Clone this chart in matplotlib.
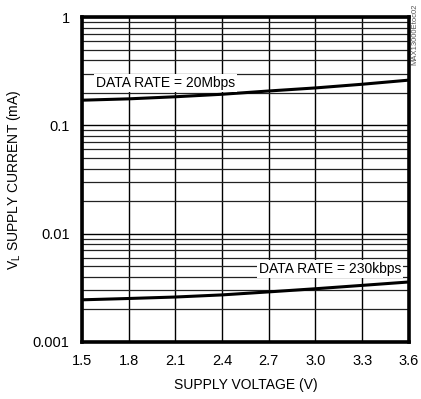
import numpy as np
import matplotlib.pyplot as plt
from matplotlib.ticker import FixedLocator, NullFormatter

plt.rcParams['font.family'] = ['Liberation Sans Narrow', 'Liberation Sans', 'DejaVu Sans']

volts = [1.5, 1.8, 2.1, 2.4, 2.7, 3.0, 3.3, 3.6]
i_20mbps = [0.171, 0.176, 0.184, 0.194, 0.208, 0.222, 0.240, 0.262]
i_230kbps = [0.00245, 0.00252, 0.00260, 0.00272, 0.00290, 0.00310, 0.00333, 0.00358]

xticks = [1.5, 1.8, 2.1, 2.4, 2.7, 3.0, 3.3, 3.6]
xticklabels = ['1.5', '1.8', '2.1', '2.4', '2.7', '3.0', '3.3', '3.6']
yticks = [0.001, 0.01, 0.1, 1]
yticklabels = ['0.001', '0.01', '0.1', '1']

fig = plt.figure(figsize=(4.21, 3.99), dpi=100)
ax = fig.add_axes([0.195, 0.143, 0.776, 0.814])

ax.plot(volts, i_20mbps, color='black', lw=2.2, zorder=3)
ax.plot(volts, i_230kbps, color='black', lw=2.2, zorder=3)

ax.set_yscale('log')
ax.set_xlim(1.5, 3.6)
ax.set_ylim(0.001, 1)
ax.set_xticks(xticks)
ax.set_xticklabels(xticklabels)
ax.set_yticks(yticks)
ax.set_yticklabels(yticklabels)
minors = [m * d for d in (0.001, 0.01, 0.1) for m in range(2, 10)]
ax.yaxis.set_minor_locator(FixedLocator(minors))
ax.yaxis.set_minor_formatter(NullFormatter())
ax.tick_params(which='both', length=0, labelsize=10.5, pad=9)
ax.grid(True, which='major', color='black', lw=1.0)
ax.grid(True, which='minor', axis='y', color='#222222', lw=0.9)
for s in ax.spines.values():
    s.set_linewidth(2.6)

ax.set_xlabel('SUPPLY VOLTAGE (V)', fontsize=10, labelpad=7)
ax.set_ylabel('V$_\\mathregular{L}$ SUPPLY CURRENT (mA)', fontsize=10)
ax.yaxis.set_label_coords(-0.18, 0.5)

box = dict(facecolor='white', edgecolor='none', pad=1.5)
ax.text(1.59, 0.245, 'DATA RATE = 20Mbps', fontsize=10, va='center', ha='left', bbox=box, zorder=4)
ax.text(3.55, 0.0047, 'DATA RATE = 230kbps', fontsize=10, va='center', ha='right', bbox=box, zorder=4)

fig.text(0.985, 0.99, 'MAX13000Etoc02', rotation=90, fontsize=5.5, color='#555555', ha='center', va='top')
fig.text(0.58, 1.005, '(C$_\\mathregular{L}$ = 15pF, ENERGY, V$_\\mathregular{L}$ = 1.2V)', fontsize=11, ha='center', va='bottom')

fig.savefig('out.png', dpi=100)
